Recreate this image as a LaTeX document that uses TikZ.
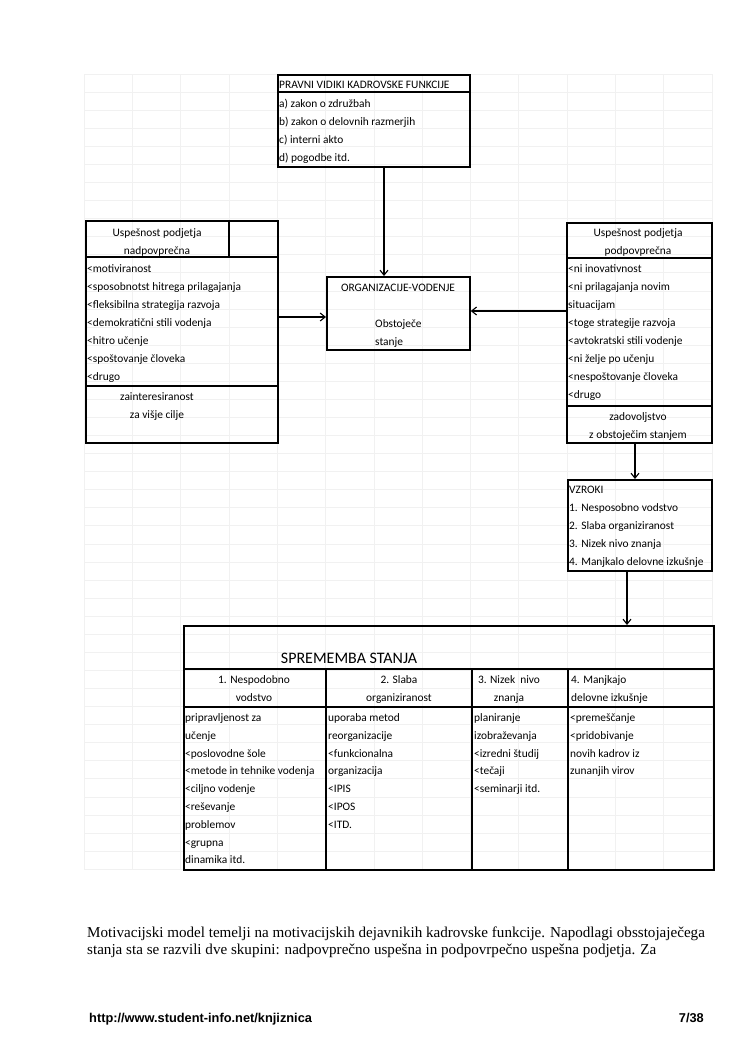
\documentclass[tikz,border=0pt]{standalone}
\usepackage{fontspec}
\setmainfont{Carlito}
\newfontfamily\timesfont{Liberation Serif}
\newfontfamily\arialfont{Liberation Sans}
\usepackage{tikz}
\usetikzlibrary{arrows.meta}

\begin{document}
\begin{tikzpicture}[x=1pt, y=-1pt]
    \tikzstyle{box} = [draw, line width=1.7pt, inner sep=0pt, anchor=north west]
    \tikzstyle{rule} = [line width=1.6pt]
    \tikzstyle{cell} = [inner sep=0pt, align=left, font=\fontsize{11.4}{18}\selectfont]
    \tikzstyle{tcell} = [inner sep=0pt, align=left, font=\fontsize{11.4}{17.8}\selectfont]
    \tikzstyle{line} = [draw, line width=1.1pt, -{Straight Barb[length=5pt, width=8pt]}]
    \tikzstyle{gridline} = [draw=gray!11, line width=0.6pt]

    \useasboundingbox (0,0) rectangle (750,1061);
    \fill[white] (0,0) rectangle (750,1061);

    % Sheet grid
    \draw[gridline, shift={(84,74)}, xstep=48.3pt, ystep=18.07pt] (0,795.5) grid (628,0);

    % Legal aspects (multi-line texts sit on their last baseline)
    \node[box, minimum width=192pt, minimum height=92pt] (pra) at (277,74) {};
    \draw[rule] (pra.west |- 0,92) -- (pra.east |- 0,92);
    \node[cell, anchor=base west] (praHead) at (279,88) {PRAVNI VIDIKI KADROVSKE FUNKCIJE};
    \node[cell, anchor=base west] (praList) at (279,161) {a) zakon o združbah\\b) zakon o delovnih razmerjih\\c) interni akto\\d) pogodbe itd.};

    % Above average
    \node[box, minimum width=192pt, minimum height=222pt] (nad) at (85,220) {};
    \draw[rule] (nad.north -| 229,0) -- (229,257);
    \draw[rule] (nad.west |- 0,257) -- (nad.east |- 0,257);
    \draw[rule] (nad.west |- 0,386) -- (nad.east |- 0,386);
    \node[cell, align=center, anchor=base] (nadHead) at (157,254.5) {Uspešnost podjetja\\nadpovprečna};
    \node[cell, anchor=base west] (nadList) at (87,380.5) {<motiviranost\\<sposobnotst hitrega prilagajanja\\<fleksibilna strategija razvoja\\<demokratični stili vodenja\\<hitro učenje\\<spoštovanje človeka\\<drugo};
    \node[cell, align=center, anchor=base] (nadFoot) at (157,418.5) {zainteresiranost\\za višje cilje};

    % Present state
    \node[box, minimum width=143pt, minimum height=73pt] (org) at (326,276) {};
    \node[cell, anchor=base] (orgHead) at (398,291) {ORGANIZACIJE-VODENJE};
    \node[cell, anchor=base west] (orgText) at (375,345) {Obstoječe\\stanje};

    % Below average
    \node[box, minimum width=145pt, minimum height=220pt] (pod) at (566,222) {};
    \draw[rule] (pod.west |- 0,258) -- (pod.east |- 0,258);
    \draw[rule] (pod.west |- 0,406) -- (pod.east |- 0,406);
    \node[cell, align=center, anchor=base] (podHead) at (638,254.5) {Uspešnost podjetja\\podpovprečna};
    \node[cell, anchor=base west] (podList) at (568,398.5) {<ni inovativnost\\<ni prilagajanja novim\\situacijam\\<toge strategije razvoja\\<avtokratski stili vodenje\\<ni želje po učenju\\<nespoštovanje človeka\\<drugo};
    \node[cell, align=center, anchor=base] (podFoot) at (638,438.5) {zadovoljstvo\\z obstoječim stanjem};

    % Causes
    \node[box, minimum width=144pt, minimum height=91pt] (vz) at (567,479) {};
    \node[cell, anchor=base west] (vzList) at (569,565.5) {VZROKI\\1. Nesposobno vodstvo\\2. Slaba organiziranost\\3. Nizek nivo znanja\\4. Manjkalo delovne izkušnje};

    % Change of state
    \node[box, minimum width=530pt, minimum height=244pt] (tab) at (183,625) {};
    \draw[rule] (tab.west |- 0,669) -- (tab.east |- 0,669);
    \draw[rule] (tab.west |- 0,707) -- (tab.east |- 0,707);
    \draw[rule] (326,669) -- (tab.south -| 326,0);
    \draw[rule] (472,669) -- (tab.south -| 472,0);
    \draw[rule] (568,669) -- (tab.south -| 568,0);
    \node[inner sep=0pt, anchor=base, font=\fontsize{16}{18}\selectfont] (tabTitle) at (349,663) {SPREMEMBA STANJA};
    \node[cell, align=center, anchor=base] (tabH1) at (254,701.5) {1. Nespodobno\\vodstvo};
    \node[cell, align=center, anchor=base] (tabH2) at (399,701.5) {2. Slaba\\organiziranost};
    \node[cell, align=center, anchor=base] (tabH3) at (509,701.5) {3. Nizek~ nivo\\znanja};
    \node[cell, anchor=base west] (tabH4) at (571,701.5) {4. Manjkajo\\delovne izkušnje};
    \node[tcell, anchor=base west] (tabC1) at (185,863.9) {pripravljenost za\\učenje\\<poslovodne šole\\<metode in tehnike vodenja\\<ciljno vodenje\\<reševanje\\problemov\\<grupna\\dinamika itd.};
    \node[tcell, anchor=base west] (tabC2) at (328,828.3) {uporaba metod\\reorganizacije\\<funkcionalna\\organizacija\\<IPIS\\<IPOS\\<ITD.};
    \node[tcell, anchor=base west] (tabC3) at (474,792.7) {planiranje\\izobraževanja\\<izredni študij\\<tečaji\\<seminarji itd.};
    \node[tcell, anchor=base west] (tabC4) at (570,774.9) {<premeščanje\\<pridobivanje\\novih kadrov iz\\zunanjih virov};

    % Connections
    \draw[line] (pra.south -| 384,0) -- (org.north -| 384,0);
    \draw[line] (nad.east |- 0,317) -- (org.west |- 0,317);
    \draw[line] (pod.west |- 0,311) -- (org.east |- 0,311);
    \draw[line] (pod.south -| 635,0) -- (vz.north -| 635,0);
    \draw[line] (vz.south -| 627,0) -- (tab.north -| 627,0);

    % Page text
    \node[inner sep=0pt, anchor=base west, align=left, font=\timesfont\fontsize{15.1}{17.2}\selectfont] (para) at (87,954.7) {Motivacijski model temelji na motivacijskih dejavnikih kadrovske funkcije. Napodlagi obsstojaječega\\stanja sta se razvili dve skupini: nadpovprečno uspešna in podpovrpečno uspešna podjetja. Za};
    \node[inner sep=0pt, anchor=base west, font=\arialfont\bfseries\fontsize{12.8}{15}\selectfont] (url) at (89,1022) {http://www.student-info.net/knjiznica};
    \node[inner sep=0pt, anchor=base east, font=\arialfont\bfseries\fontsize{12.8}{15}\selectfont] (page) at (704,1022) {7/38};
\end{tikzpicture}
\end{document}
